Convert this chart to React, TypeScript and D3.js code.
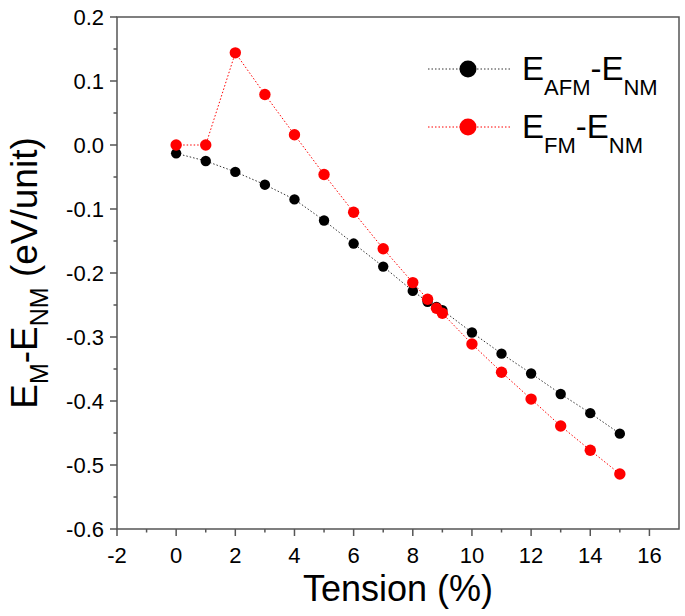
import React from "react";
import * as d3 from "d3";

// tension (%) values
const tension = [0, 1, 2, 3, 4, 5, 6, 7, 8, 8.5, 8.8, 9, 10, 11, 12, 13, 14, 15];
// E_AFM - E_NM (eV/unit)
const afm = [-0.013, -0.025, -0.042, -0.062, -0.085, -0.118, -0.154, -0.19, -0.228, -0.245, -0.253, -0.258, -0.293, -0.326, -0.357, -0.389, -0.419, -0.451];
// E_FM - E_NM (eV/unit)
const fm = [0.0, 0.0, 0.144, 0.079, 0.016, -0.046, -0.105, -0.162, -0.215, -0.241, -0.255, -0.263, -0.311, -0.355, -0.397, -0.439, -0.477, -0.514];

const xTicks = [-2, 0, 2, 4, 6, 8, 10, 12, 14, 16];
const xMinor = [-1, 1, 3, 5, 7, 9, 11, 13, 15];
const yTicks = [0.2, 0.1, 0.0, -0.1, -0.2, -0.3, -0.4, -0.5, -0.6];
const yMinor = [0.15, 0.05, -0.05, -0.15, -0.25, -0.35, -0.45, -0.55];

const W = 685,
  H = 616;
const left = 117,
  right = 679,
  top = 17,
  bottom = 529;

const font = "'Liberation Sans', Arial, sans-serif";

export default function App() {
  const x = d3.scaleLinear().domain([-2, 17]).range([left, right]);
  const y = d3.scaleLinear().domain([-0.6, 0.2]).range([bottom, top]);

  const line = d3
    .line<number>()
    .x((d, i) => x(tension[i]))
    .y((d) => y(d));

  const series = [
    { vals: afm, color: "#000", line: "#333", r: 5.2 },
    { vals: fm, color: "#ff0000", line: "#ff0000", r: 5.7 },
  ];

  return (
    <svg
      width={W}
      height={H}
      style={{ position: "absolute", left: 0, top: 0, background: "#fff" }}
      fontFamily={font}
    >
      {/* frame */}
      <rect x={left} y={top} width={right - left} height={bottom - top} fill="none" stroke="#555" strokeWidth={1.5} />

      {/* x ticks */}
      {xTicks.map((t) => (
        <g key={"xt" + t}>
          <line x1={x(t)} x2={x(t)} y1={bottom} y2={bottom + 7} stroke="#555" strokeWidth={1.5} />
          <text x={x(t)} y={563} fontSize={22} textAnchor="middle" fill="#000">
            {t}
          </text>
        </g>
      ))}
      {xMinor.map((t) => (
        <line key={"xm" + t} x1={x(t)} x2={x(t)} y1={bottom} y2={bottom + 3.5} stroke="#555" strokeWidth={1.5} />
      ))}

      {/* y ticks */}
      {yTicks.map((t) => (
        <g key={"yt" + t}>
          <line x1={left - 7} x2={left} y1={y(t)} y2={y(t)} stroke="#555" strokeWidth={1.5} />
          <text x={104} y={y(t) + 8} fontSize={22} textAnchor="end" fill="#000">
            {d3.format(".1f")(t).replace("−", "-")}
          </text>
        </g>
      ))}
      {yMinor.map((t) => (
        <line key={"ym" + t} x1={left - 3.5} x2={left} y1={y(t)} y2={y(t)} stroke="#555" strokeWidth={1.5} />
      ))}

      {/* axis titles */}
      <text x={(left + right) / 2} y={601} fontSize={36} textAnchor="middle" fill="#000">
        Tension (%)
      </text>
      <text
        transform={`translate(37,${(top + bottom) / 2}) rotate(-90)`}
        fontSize={37}
        textAnchor="middle"
        fill="#000"
      >
        E<tspan fontSize={25} dy={11}>M</tspan>
        <tspan dy={-11}>-E</tspan>
        <tspan fontSize={25} dy={11}>NM</tspan>
        <tspan dy={-11}> (eV/unit)</tspan>
      </text>

      {/* series */}
      {series.map((s, k) => (
        <g key={"s" + k}>
          <path d={line(s.vals) || ""} fill="none" stroke={s.line} strokeWidth={1} strokeDasharray="1.5,2" />
          {s.vals.map((v, i) => (
            <circle key={i} cx={x(tension[i])} cy={y(v)} r={s.r} fill={s.color} />
          ))}
        </g>
      ))}

      {/* legend */}
      {[
        { color: "#000", line: "#333", main: "AFM", yy: 69 },
        { color: "#ff0000", line: "#ff0000", main: "FM", yy: 127 },
      ].map((l) => (
        <g key={l.main}>
          <line x1={428} x2={510} y1={l.yy} y2={l.yy} stroke={l.line} strokeWidth={1} strokeDasharray="1.5,2" />
          <circle cx={468} cy={l.yy} r={8.5} fill={l.color} />
          <text x={522} y={l.yy + 11} fontSize={33} fill="#000">
            E<tspan fontSize={22} dy={15}>{l.main}</tspan>
            <tspan dy={-15}>-E</tspan>
            <tspan fontSize={22} dy={15}>NM</tspan>
          </text>
        </g>
      ))}
    </svg>
  );
}
